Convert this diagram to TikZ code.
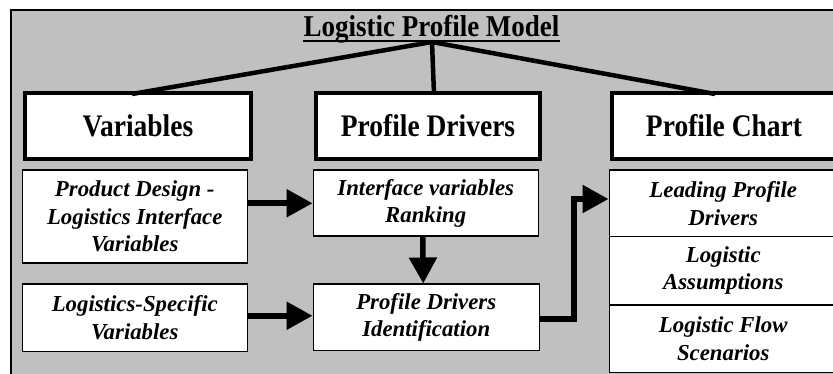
\documentclass[tikz,border=0pt]{standalone}
\usepackage{graphicx}
\usepackage{fontspec}
\setmainfont{Liberation Serif}
\usetikzlibrary{arrows.meta,calc}
\definecolor{panelgray}{HTML}{C0C0C0}
\newcommand{\tallhdr}[1]{\scalebox{1}[1.14]{#1}}
\begin{document}
\begin{tikzpicture}[x=1pt,y=-1pt,
  hdr/.style={draw, line width=4pt, fill=white, minimum width=226pt, minimum height=66pt,
    inner sep=0pt, anchor=north west, font=\fontsize{27.5}{30}\selectfont\bfseries},
  sub/.style={draw, line width=1.5pt, fill=white, anchor=north west, inner sep=0pt,
    align=center, font=\fontsize{22.8}{27.5}\selectfont\bfseries\itshape},
  arr/.style={line width=5.5pt, line join=miter, -{Triangle[length=26pt,width=27pt]}},
  fork/.style={line width=4.5pt}]
\useasboundingbox (0,0) rectangle (833,374);
\clip (0,0) rectangle (833,374);
\draw[line width=1.5pt, fill=panelgray] (11,10) rectangle (860,400);
% title
\node[inner sep=0pt, anchor=base, font=\fontsize{27}{30}\selectfont\bfseries] (title) at (431.5,37) {\scalebox{1}[1.12]{Logistic Profile Model}};
\draw[line width=2pt] ([yshift=-4pt]title.base west) -- ([yshift=-4pt]title.base east);
\coordinate (fk) at (432,42);
% headers
\node[hdr] (hv) at (23,91) {\tallhdr{Variables}};
\node[hdr, minimum width=224pt] (hp) at (314,91) {\tallhdr{Profile Drivers}};
\node[hdr, minimum width=224pt] (hc) at (610,91) {\tallhdr{Profile Chart}};
% fork lines
\draw[fork] (fk) -- ([xshift=109pt,yshift=-3pt]hv.north west);
\draw[fork] (fk) -- ([xshift=120pt,yshift=-3pt]hp.north west);
\draw[fork] (fk) -- ([xshift=105pt,yshift=-3pt]hc.north west);
% sub boxes
\node[sub, minimum width=225pt, minimum height=93pt] (pd) at (21.5,169.5) {Product Design -\\Logistics Interface\\Variables};
\node[sub, minimum width=225pt, minimum height=67pt] (ls) at (21.5,283.5) {Logistics-Specific\\Variables};
\node[sub, minimum width=225pt, minimum height=66pt] (ir) at (312.5,169.5) {Interface variables\\Ranking};
\node[sub, minimum width=226pt, minimum height=66pt] (id) at (312.5,283.5) {Profile Drivers\\Identification};
\node[sub, minimum width=228pt, minimum height=66.5pt] (c1) at (608.5,169.5) {Leading Profile\\Drivers};
\node[sub, minimum width=228pt, minimum height=68pt] (c2) at (608.5,236) {Logistic\\Assumptions};
\node[sub, minimum width=228pt, minimum height=67.5pt] (c3) at (608.5,304) {Logistic Flow\\Scenarios};
% arrows
\draw[arr] (pd.east |- ir.west) -- (ir.west);
\draw[arr] ([yshift=2pt]ls.east) -- ([yshift=2pt]id.west |- ls.east);
\draw[arr] ([xshift=-3pt]ir.south) -- ([xshift=-3pt]id.north);
\draw[arr] ([yshift=-1.5pt]id.east) -- ++(34,0) |- ([yshift=4.5pt]c1.west);
\end{tikzpicture}
\end{document}
